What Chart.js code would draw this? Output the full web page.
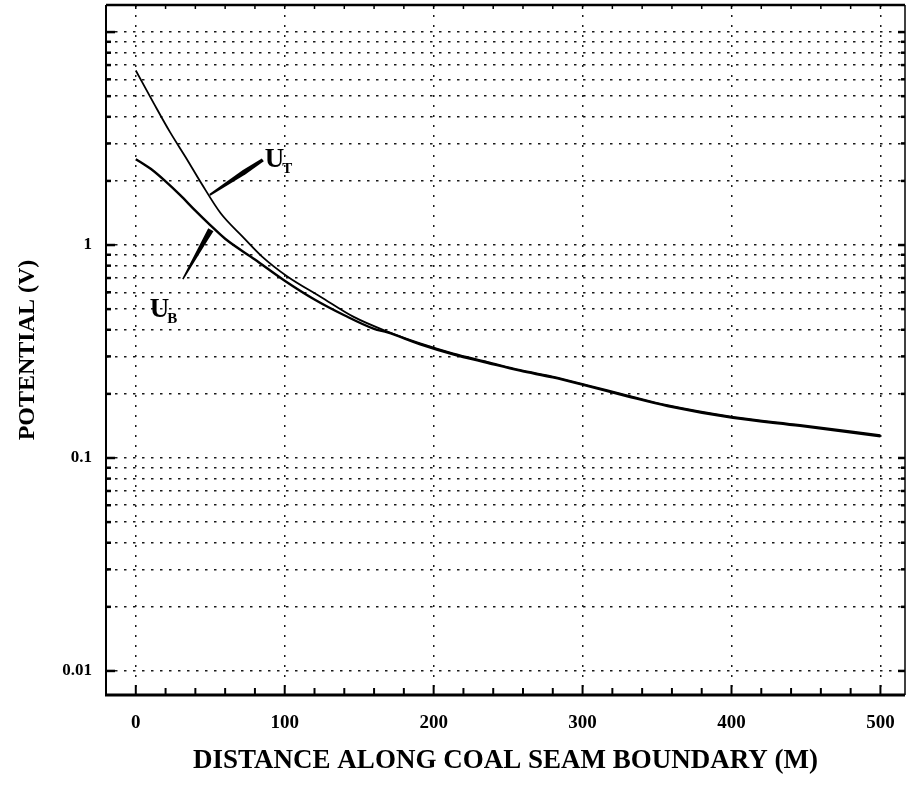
<!DOCTYPE html>
<html>
<head>
<meta charset="utf-8">
<script src="https://cdn.jsdelivr.net/npm/chart.js@4/dist/chart.umd.min.js"></script>
<style>
  html, body { margin: 0; padding: 0; background: #fff; }
  canvas { display: block; }
</style>
</head>
<body>
<canvas id="chart" width="907" height="790"></canvas>
<script>
// Potential along the coal seam boundary, two curves (U_T and U_B)
const distUT = [0, 12, 23, 34, 44, 57, 72, 85, 102, 124, 146, 169, 191, 213, 236, 258, 280, 303, 330, 357, 401, 446, 500];
const potUT  = [6.6, 4.64, 3.39, 2.55, 1.95, 1.41, 1.09, 0.88, 0.71, 0.572, 0.461, 0.392, 0.345, 0.31, 0.283, 0.259, 0.241, 0.22, 0.197, 0.177, 0.156, 0.143, 0.128];

const distUB = [0, 10, 20, 30, 40, 50, 60, 80, 100, 120, 140, 160, 169, 191, 213, 236, 258, 280, 303, 330, 357, 401, 446, 500];
const potUB  = [2.53, 2.28, 1.99, 1.71, 1.45, 1.24, 1.07, 0.855, 0.68, 0.555, 0.468, 0.404, 0.389, 0.342, 0.307, 0.28, 0.257, 0.239, 0.218, 0.195, 0.1755, 0.1545, 0.1415, 0.1265];

// Axis ticks and labels
const xTickValues = [0, 100, 200, 300, 400, 500];
const xTickLabels = ['0', '100', '200', '300', '400', '500'];
const yLabelValues = [0.01, 0.1, 1];
const yTickLabels  = ['0.01', '0.1', '1'];
const yDecades = [0.01, 0.1, 1];
const yMantissas = [1, 2, 3, 4, 5, 6, 7, 8, 9];

// Log grid lines: 1..9 within each decade, plus 10
const yGridValues = [];
yDecades.forEach(d => yMantissas.forEach(m => yGridValues.push(+(m * d).toPrecision(3))));
yGridValues.push(10);

const toPoints = (xs, ys) => xs.map((x, i) => ({ x: x, y: ys[i] }));
const sameValue = (a, b) => Math.abs(a - b) / b < 1e-6;

const SERIF = '"Liberation Serif", "Times New Roman", "DejaVu Serif", serif';

// Frame, inward ticks, curve pointers and curve names
const framePlugin = {
  id: 'frame',
  afterDraw(chart) {
    const { ctx, chartArea: a, scales: { x, y } } = chart;
    const seg = (x1, y1, x2, y2, w) => {
      ctx.lineWidth = w;
      ctx.beginPath();
      ctx.moveTo(x1, y1);
      ctx.lineTo(x2, y2);
      ctx.stroke();
    };
    ctx.save();
    ctx.strokeStyle = '#000';
    ctx.fillStyle = '#000';
    ctx.lineCap = 'butt';

    // plot frame
    seg(a.left - 1, a.bottom, a.right, a.bottom, 3);
    seg(a.left, a.top, a.right, a.top, 2.5);
    seg(a.left, a.top, a.left, a.bottom, 2);
    seg(a.right, a.top, a.right, a.bottom, 1.5);

    // distance ticks every 20 m, pointing into the plot
    for (let v = -20; v <= 500; v += 20) {
      const px = x.getPixelForValue(v);
      const major = v % 100 === 0;
      seg(px, a.bottom, px, a.bottom - (major ? 10 : 7), 2);
      seg(px, a.top, px, a.top + 4, 1.5);
    }

    // potential ticks on each grid value
    yGridValues.forEach(v => {
      const py = y.getPixelForValue(v);
      const major = yLabelValues.some(l => sameValue(v, l)) || v === 10;
      seg(a.left, py, a.left + (major ? 9 : 5), py, 2.5);
      seg(a.right, py, a.right - (major ? 7 : 4), py, 2.5);
    });

    // tapered pointer from a curve to its name
    const pointer = (p1, p2, w1, wm, w2, t) => {
      const x1 = x.getPixelForValue(p1[0]), y1 = y.getPixelForValue(p1[1]);
      const x2 = x.getPixelForValue(p2[0]), y2 = y.getPixelForValue(p2[1]);
      const dx = x2 - x1, dy = y2 - y1, L = Math.hypot(dx, dy);
      const nx = -dy / L, ny = dx / L;
      const mx = x1 + dx * t, my = y1 + dy * t;
      ctx.beginPath();
      ctx.moveTo(x1 + nx * w1 / 2, y1 + ny * w1 / 2);
      ctx.lineTo(mx + nx * wm / 2, my + ny * wm / 2);
      ctx.lineTo(x2 + nx * w2 / 2, y2 + ny * w2 / 2);
      ctx.lineTo(x2 - nx * w2 / 2, y2 - ny * w2 / 2);
      ctx.lineTo(mx - nx * wm / 2, my - ny * wm / 2);
      ctx.lineTo(x1 - nx * w1 / 2, y1 - ny * w1 / 2);
      ctx.closePath();
      ctx.fill();
    };
    pointer([49.7, 1.72], [85.3, 2.51], 2, 5, 3.5, 0.65);
    pointer([50.4, 1.18], [31.6, 0.692], 6, 5, 1.5, 0.2);

    // curve names: U with a subscript
    const name = (pos, sub) => {
      const px = x.getPixelForValue(pos[0]), py = y.getPixelForValue(pos[1]);
      ctx.textBaseline = 'alphabetic';
      ctx.textAlign = 'left';
      ctx.font = 'bold 27px ' + SERIF;
      ctx.fillText('U', px, py);
      const w = ctx.measureText('U').width;
      ctx.font = 'bold 15px ' + SERIF;
      ctx.fillText(sub, px + w - 2, py + 6);
    };
    name([86.6, 2.32], 'T');
    name([9.4, 0.459], 'B');

    ctx.restore();
  }
};

new Chart(document.getElementById('chart'), {
  type: 'line',
  data: {
    datasets: [
      {
        label: 'U_T',
        data: toPoints(distUT, potUT),
        borderColor: '#000',
        borderWidth: 1.8,
        pointRadius: 0,
        cubicInterpolationMode: 'monotone',
        fill: false
      },
      {
        label: 'U_B',
        data: toPoints(distUB, potUB),
        borderColor: '#000',
        borderWidth: 2.4,
        pointRadius: 0,
        cubicInterpolationMode: 'monotone',
        fill: false
      }
    ]
  },
  options: {
    responsive: false,
    animation: false,
    events: [],
    layout: { padding: { top: 5, right: 2, left: 0, bottom: 0 } },
    plugins: {
      legend: { display: false },
      tooltip: { enabled: false }
    },
    scales: {
      x: {
        type: 'linear',
        bounds: 'data',
        min: -20,
        max: 516.5,
        afterBuildTicks: s => { s.ticks = xTickValues.map(v => ({ value: v })); },
        afterFit: s => {
          s.height = 95;
          s.paddingLeft = 0;
          s.paddingRight = 0;
        },
        ticks: {
          autoSkip: false,
          maxRotation: 0,
          padding: 17,
          color: '#000',
          font: { family: SERIF, size: 19, weight: 'bold' },
          callback: v => {
            const i = xTickValues.indexOf(v);
            return i >= 0 ? xTickLabels[i] : '';
          }
        },
        grid: {
          color: '#1a1a1a',
          lineWidth: 1.5,
          drawTicks: false
        },
        border: { display: false, dash: [2, 8] },
        title: {
          display: true,
          text: 'DISTANCE ALONG COAL SEAM BOUNDARY (M)',
          color: '#000',
          font: { family: SERIF, size: 27, weight: 'bold' },
          padding: { top: 0, bottom: 13 }
        }
      },
      y: {
        type: 'logarithmic',
        bounds: 'data',
        min: 0.00771,
        max: 13.4,
        afterBuildTicks: s => { s.ticks = yGridValues.map(v => ({ value: v })); },
        afterFit: s => {
          s.width = 106;
          s.paddingTop = 0;
          s.paddingBottom = 0;
        },
        ticks: {
          autoSkip: false,
          padding: 14,
          color: '#000',
          font: { family: SERIF, size: 17, weight: 'bold' },
          callback: v => {
            const i = yLabelValues.findIndex(l => sameValue(v, l));
            return i >= 0 ? yTickLabels[i] : '';
          }
        },
        grid: {
          color: '#1a1a1a',
          lineWidth: 1.5,
          drawTicks: false
        },
        border: { display: false, dash: [2.5, 6.5] },
        title: {
          display: true,
          text: 'POTENTIAL (V)',
          color: '#000',
          font: { family: SERIF, size: 24, weight: 'bold' },
          padding: { top: 13, bottom: 0 }
        }
      }
    }
  },
  plugins: [framePlugin]
});
</script>
</body>
</html>
